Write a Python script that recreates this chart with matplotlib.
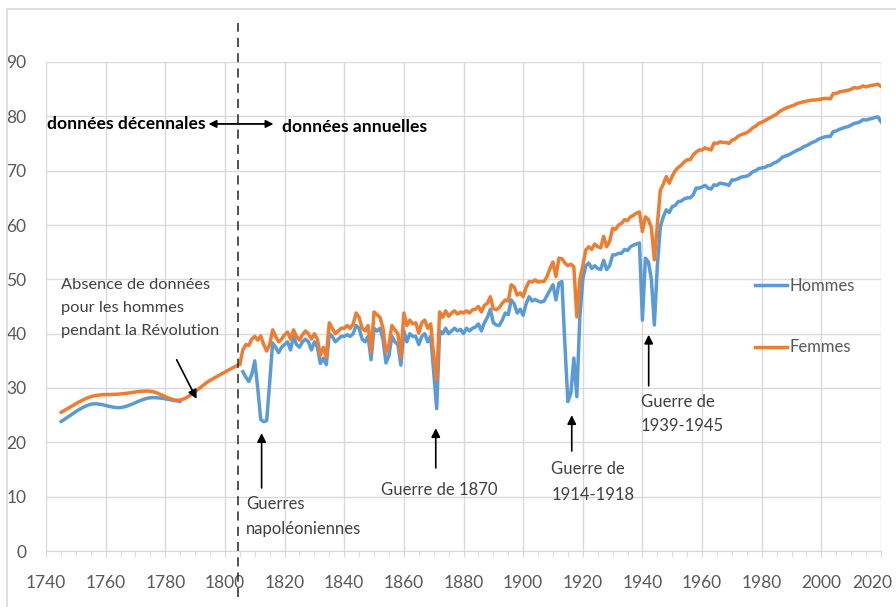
import matplotlib
matplotlib.use("Agg")
import matplotlib.pyplot as plt
import matplotlib.transforms as mtransforms
import numpy as np
from matplotlib.path import Path
from matplotlib.patches import PathPatch, Rectangle
from matplotlib.lines import Line2D

# ---------------- data ----------------
dec_years_h = [1745, 1755, 1765, 1775, 1785]
dec_hommes = [23.8, 27.0, 26.4, 28.2, 27.5]
dec_years_f = [1745, 1755, 1765, 1775, 1785, 1795, 1805]
dec_femmes = [25.5, 28.4, 28.9, 29.4, 27.8, 31.4, 34.4]

annual_years = list(range(1806, 2021))
hommes_annual = [
    33.0, 32.0, 31.2, 32.5,                                      # 1806-1809
    35.0, 30.0, 24.2, 23.8, 24.0, 31.0, 38.3, 37.5, 36.5, 37.5,  # 1810s
    38.0, 38.5, 37.0, 39.5, 38.0, 37.5, 38.5, 39.0, 38.5, 37.0,  # 1820s
    38.5, 37.5, 34.5, 35.5, 34.3, 40.0, 39.5, 38.5, 39.0, 39.5,  # 1830s
    39.5, 39.8, 39.5, 40.0, 41.5, 41.0, 39.0, 38.5, 39.5, 35.2,  # 1840s
    41.0, 40.5, 41.0, 39.0, 34.6, 36.0, 39.5, 38.5, 38.0, 34.2,  # 1850s
    40.5, 38.5, 40.0, 39.5, 39.5, 38.0, 39.5, 40.0, 38.5, 39.5,  # 1860s
    33.0, 26.2, 40.5, 40.0, 41.0, 40.0, 40.5, 41.0, 40.5, 40.8,  # 1870s
    40.0, 41.0, 40.5, 41.0, 41.2, 41.8, 40.5, 42.0, 43.0, 44.5,  # 1880s
    42.0, 41.6, 41.5, 42.5, 43.8, 43.5, 46.2, 45.5, 43.8, 44.5,  # 1890s
    43.4, 45.5, 46.8, 46.0, 46.3, 46.0, 45.8, 46.0, 47.0, 48.0,  # 1900s
    49.0, 46.2, 49.3, 49.6, 38.0, 27.5, 29.0, 35.5, 28.4, 43.0,  # 1910s
    50.0, 52.5, 53.0, 52.0, 52.5, 52.0, 51.8, 53.5, 51.8, 52.5,  # 1920s
    54.5, 54.5, 54.8, 54.8, 55.5, 55.3, 56.0, 56.3, 56.5, 56.7,  # 1930s
    42.5, 53.9, 53.2, 50.0, 41.6, 52.5, 59.7, 61.5, 62.8, 62.3,  # 1940s
    63.4, 63.6, 64.3, 64.4, 64.8, 65.0, 65.0, 65.5, 66.8, 66.8,  # 1950s
    67.0, 67.3, 66.8, 66.6, 67.4, 67.3, 67.7, 67.6, 67.5, 67.3,  # 1960s
    68.3, 68.3, 68.5, 68.8, 68.9, 69.0, 69.3, 69.8, 70.0, 70.4,  # 1970s
    70.5, 70.6, 70.9, 71.0, 71.4, 71.6, 72.0, 72.5, 72.7, 72.9,  # 1980s
    73.2, 73.5, 73.8, 74.0, 74.4, 74.6, 74.9, 75.2, 75.4, 75.8,  # 1990s
    76.0, 76.2, 76.3, 76.3, 77.2, 77.3, 77.6, 77.8, 78.0, 78.1,  # 2000s
    78.4, 78.7, 78.8, 79.0, 79.4, 79.3, 79.5, 79.6, 79.8, 79.9,  # 2010s
    79.0,                                                        # 2020
]
femmes_annual = [
    37.0, 38.0, 37.8, 39.0,                                      # 1806-1809
    39.5, 38.8, 39.6, 38.0, 36.8, 38.0, 40.7, 39.5, 38.5, 39.0,  # 1810s
    39.8, 40.3, 39.0, 40.7, 39.5, 38.8, 39.8, 40.5, 40.0, 39.0,  # 1820s
    40.0, 39.0, 36.0, 37.5, 35.7, 42.0, 41.0, 40.0, 40.5, 41.0,  # 1830s
    41.0, 41.5, 41.0, 41.8, 43.8, 43.0, 41.0, 40.5, 41.5, 36.6,  # 1840s
    44.0, 43.5, 43.0, 41.0, 36.6, 38.0, 41.5, 40.7, 40.0, 35.7,  # 1850s
    43.8, 41.5, 42.5, 41.8, 42.0, 40.1, 42.0, 42.5, 41.0, 41.8,  # 1860s
    36.0, 31.5, 44.0, 43.0, 44.2, 43.2, 43.8, 44.2, 43.6, 44.0,  # 1870s
    43.8, 44.2, 43.8, 44.4, 44.5, 45.0, 44.0, 45.2, 45.6, 46.8,  # 1880s
    44.6, 44.4, 44.8, 45.6, 46.2, 46.0, 49.0, 48.6, 47.1, 47.5,  # 1890s
    46.8, 48.5, 49.6, 49.5, 49.9, 49.5, 49.6, 49.6, 50.5, 52.0,  # 1900s
    53.2, 50.5, 53.9, 53.8, 53.0, 52.5, 52.8, 52.3, 43.1, 50.0,  # 1910s
    52.5, 55.4, 56.0, 55.5, 56.5, 56.0, 55.8, 57.9, 56.0, 57.0,  # 1920s
    59.4, 59.2, 60.0, 60.3, 61.0, 60.8, 61.5, 61.8, 62.2, 62.4,  # 1930s
    58.8, 61.5, 61.0, 59.5, 53.6, 60.0, 66.4, 67.5, 68.9, 67.7,  # 1940s
    69.0, 70.0, 70.6, 71.0, 71.6, 72.0, 72.0, 72.9, 73.4, 73.8,  # 1950s
    73.8, 74.2, 74.0, 73.8, 75.1, 75.0, 75.3, 75.2, 75.2, 75.0,  # 1960s
    75.6, 75.8, 76.3, 76.6, 76.8, 77.0, 77.4, 77.9, 78.2, 78.7,  # 1970s
    78.9, 79.2, 79.5, 79.8, 80.1, 80.4, 80.9, 81.2, 81.5, 81.7,  # 1980s
    81.9, 82.1, 82.4, 82.5, 82.7, 82.8, 82.9, 83.0, 83.0, 83.1,  # 1990s
    83.2, 83.3, 83.3, 83.2, 84.2, 84.2, 84.5, 84.6, 84.7, 84.8,  # 2000s
    85.0, 85.3, 85.2, 85.3, 85.6, 85.4, 85.6, 85.7, 85.8, 85.9,  # 2010s
    85.5,                                                        # 2020
]

x_ticks = list(range(1740, 2021, 20))
y_ticks = list(range(0, 91, 10))
series_labels = ["Hommes", "Femmes"]

# ---------------- style ----------------
BLUE = "#5b9bd5"
ORANGE = "#ed7d31"
GRID = "#d9d9d9"
TXT = "#404040"
FONT = ["Lato", "DejaVu Sans"]
plt.rcParams["font.family"] = FONT

W, H = 896, 607
fig = plt.figure(figsize=(W / 100, H / 100), dpi=100)
L, R, T, B = 46, 881, 62, 551
ax = fig.add_axes([L / W, 1 - B / H, (R - L) / W, (B - T) / H])

ax.set_xlim(1740, 2020)
ax.set_ylim(0, 90)
ax.set_xticks(x_ticks)
ax.set_yticks(y_ticks)
ax.set_xticks(list(range(1740, 2021, 5)), minor=True)
ax.grid(True, which="major", color=GRID, lw=1)
ax.set_axisbelow(True)
for s in ["top", "right", "left"]:
    ax.spines[s].set_visible(False)
ax.spines["bottom"].set_color(GRID)
ax.tick_params(axis="x", which="both", length=4, color=GRID, direction="out",
               pad=13, labelsize=12.5, labelcolor="#595959")
ax.tick_params(axis="y", which="both", length=0, pad=14,
               labelsize=12.5, labelcolor="#595959")
# keep the last x label inside the picture (as the original chart does)
last_lbl = ax.get_xticklabels()[-1]
last_lbl.set_transform(last_lbl.get_transform() +
                       mtransforms.ScaledTranslation(-9 / 100, 0, fig.dpi_scale_trans))


def smooth_path(xs, ys):
    xs = np.asarray(xs, float)
    ys = np.asarray(ys, float)
    n = len(xs)
    verts = [(xs[0], ys[0])]
    codes = [Path.MOVETO]
    for i in range(n - 1):
        p0 = (xs[max(i - 1, 0)], ys[max(i - 1, 0)])
        p1 = (xs[i], ys[i])
        p2 = (xs[i + 1], ys[i + 1])
        p3 = (xs[min(i + 2, n - 1)], ys[min(i + 2, n - 1)])
        c1 = (p1[0] + (p2[0] - p0[0]) / 6, p1[1] + (p2[1] - p0[1]) / 6)
        c2 = (p2[0] - (p3[0] - p1[0]) / 6, p2[1] - (p3[1] - p1[1]) / 6)
        verts += [c1, c2, p2]
        codes += [Path.CURVE4] * 3
    return Path(verts, codes)


LW = 2.5
# Hommes
ax.add_patch(PathPatch(smooth_path(dec_years_h, dec_hommes), fill=False,
                       edgecolor=BLUE, lw=LW, capstyle="round", joinstyle="round"))
ax.plot(annual_years, hommes_annual, color=BLUE, lw=LW, solid_joinstyle="round")
# Femmes
ax.add_patch(PathPatch(smooth_path(dec_years_f, dec_femmes), fill=False,
                       edgecolor=ORANGE, lw=LW, capstyle="round", joinstyle="round"))
ax.plot([dec_years_f[-1]] + annual_years, [dec_femmes[-1]] + femmes_annual,
        color=ORANGE, lw=LW, solid_joinstyle="round")

# dashed separator
ax.axvline(1804.4, ymin=(B - 597) / (B - T), ymax=(B - 23) / (B - T),
           color="#222222", lw=1.1, ls=(0, (6, 4)), clip_on=False)

# header texts
ax.text(1740.3, 78.6, "données décennales", fontsize=12.6, fontweight="bold",
        color="black", ha="left", va="center")
ax.text(1819.0, 78.0, "données annuelles", fontsize=12.6, fontweight="bold",
        color="black", ha="left", va="center")
ax.annotate("", xy=(1794.5, 78.6), xytext=(1816.3, 78.6),
            arrowprops=dict(arrowstyle="<|-|>", color="black", lw=1.3,
                            mutation_scale=11, shrinkA=0, shrinkB=0))

arrow_kw = dict(arrowstyle="-|>", color="black", lw=1.2, mutation_scale=13,
                shrinkA=0, shrinkB=0)

ax.text(1745.0, 44.7, "Absence de données\npour les hommes\npendant la Révolution",
        fontsize=11.8, color=TXT, ha="left", va="center", linespacing=1.8)
ax.annotate("", xy=(1790.5, 28.0), xytext=(1783.8, 35.2), arrowprops=arrow_kw)

ax.text(1807.0, 6.35, "Guerres\nnapoléoniennes", fontsize=12, color=TXT,
        ha="left", va="center", linespacing=1.68)
ax.annotate("", xy=(1812.3, 21.7), xytext=(1812.3, 11.6), arrowprops=arrow_kw)

ax.text(1872.0, 11.2, "Guerre de 1870", fontsize=12, color=TXT,
        ha="center", va="center")
ax.annotate("", xy=(1870.7, 22.6), xytext=(1870.7, 15.3), arrowprops=arrow_kw)

ax.text(1909.5, 12.7, "Guerre de\n1914-1918", fontsize=12, color=TXT,
        ha="left", va="center", linespacing=1.72)
ax.annotate("", xy=(1916.3, 25.0), xytext=(1916.3, 18.4), arrowprops=arrow_kw)

ax.text(1939.5, 25.2, "Guerre de\n1939-1945", fontsize=12, color=TXT,
        ha="left", va="center", linespacing=1.62)
ax.annotate("", xy=(1942.1, 39.8), xytext=(1942.1, 30.4), arrowprops=arrow_kw)

# legend
handles = [Line2D([], [], color=BLUE, lw=LW), Line2D([], [], color=ORANGE, lw=LW)]
leg = ax.legend(handles, series_labels, loc="center left",
                bbox_to_anchor=((755 - L) / (R - L), (B - 316.5) / (B - T)),
                frameon=False, fontsize=12, labelspacing=2.75, handlelength=1.9,
                handletextpad=0.15, borderpad=0, borderaxespad=0)
for t in leg.get_texts():
    t.set_color("#595959")

# outer chart frame
fig.add_artist(Rectangle((7 / W, -0.02), 1.05, 1 - 9 / H + 0.02,
                         transform=fig.transFigure, fill=False,
                         edgecolor=GRID, lw=1.2))

fig.savefig("out.png", dpi=100)
